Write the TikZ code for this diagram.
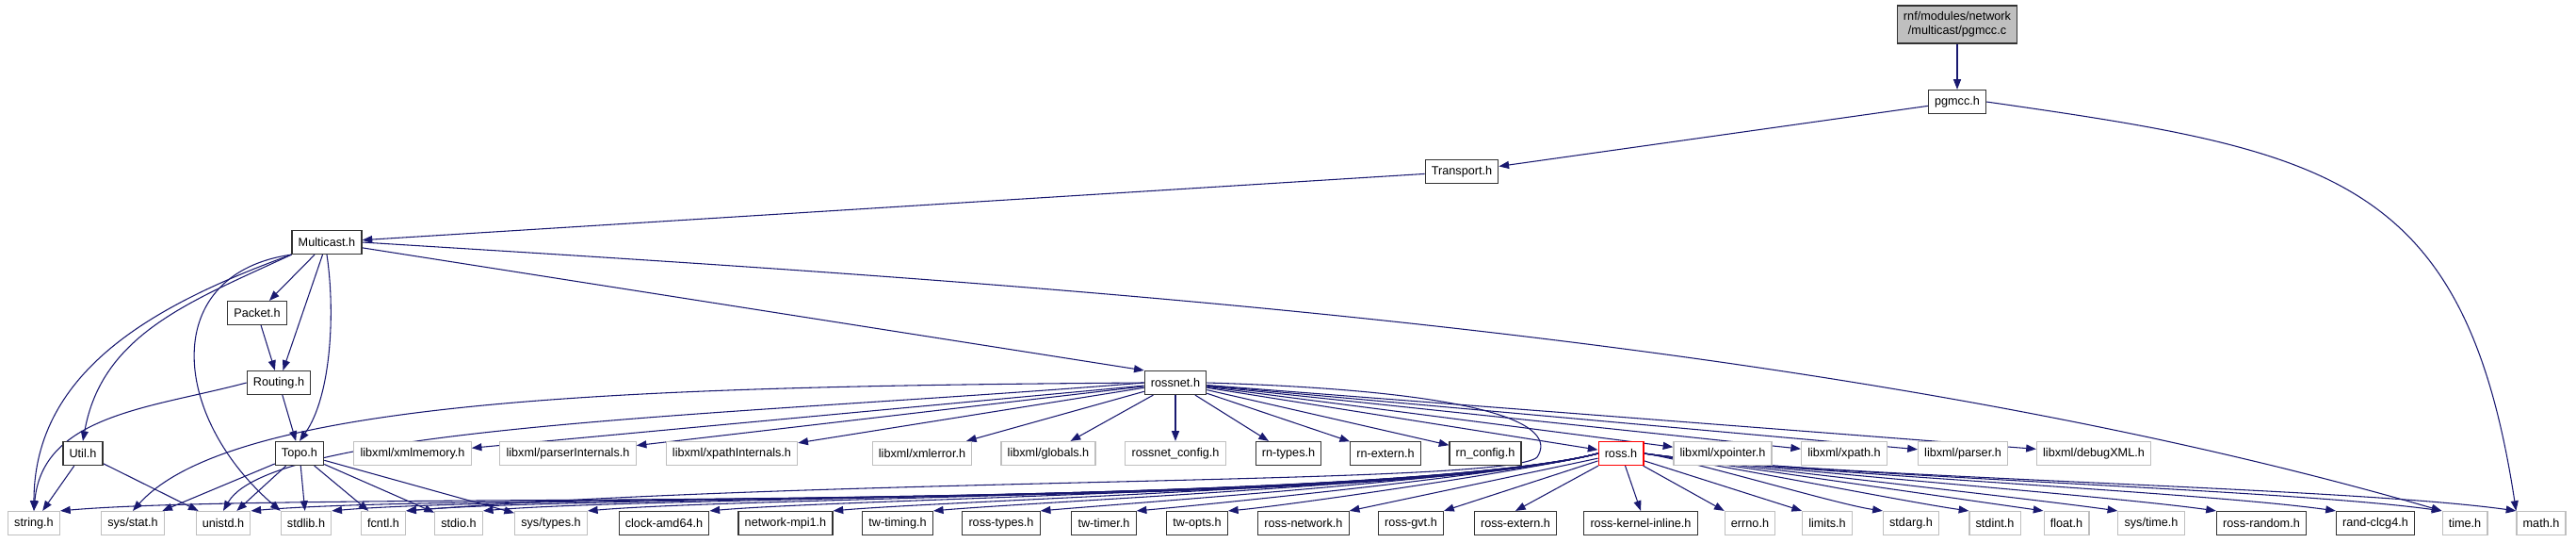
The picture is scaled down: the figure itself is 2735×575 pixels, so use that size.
\documentclass[tikz,border=0pt]{standalone}
\usepackage{fontspec}
\setmainfont{Liberation Sans}
\usepackage{xcolor}
\usetikzlibrary{arrows.meta, positioning, backgrounds}
\definecolor{bleuLien}{RGB}{25,25,112}
\definecolor{grisBord}{RGB}{191,191,191}

\begin{document}
\begin{tikzpicture}[
			x=0.75pt, y=0.75pt,
			font=\fontsize{9.5}{11}\selectfont,
			% Styles des fichiers
			fichier/.style={draw=black!80, fill=white, line width=0.9pt, minimum height=18.75pt, inner xsep=5pt, inner ysep=1pt},
			externe/.style={fichier, draw=grisBord},
			tronque/.style={fichier, draw=red},
			racine/.style={fichier, fill=grisBord, align=center, minimum height=30pt},
			% Style des liens
			fleche/.style={-{Triangle[length=8pt, width=6pt]}, draw=bleuLien, line width=0.8pt},
			]
			
			\useasboundingbox (0,0) rectangle (2735,-575);
			
			% Haut du graphe
			\node[racine] (pgmccC) at (2078,-26) {rnf/modules/network\\/multicast/pgmcc.c};
			\node[fichier] (pgmccH) at (2078,-108) {pgmcc.h};
			\node[fichier] (transport) at (1552,-182) {Transport.h};
			\node[fichier] (multicast) at (347,-257) {Multicast.h};
			\node[fichier] (packet) at (273,-332) {Packet.h};
			\node[fichier] (routing) at (296,-406) {Routing.h};
			\node[fichier] (rossnet) at (1248,-406) {rossnet.h};
			
			% Rangee du milieu
			\node[fichier] (util) at (88,-481) {Util.h};
			\node[fichier] (topo) at (318,-481) {Topo.h};
			\node[externe] (xmlmemory) at (438,-481) {libxml/xmlmemory.h};
			\node[externe] (parserInt) at (603,-481) {libxml/parserInternals.h};
			\node[externe] (xpathInt) at (777,-481) {libxml/xpathInternals.h};
			\node[externe] (xmlerror) at (979,-481) {libxml/xmlerror.h};
			\node[externe] (globals) at (1113,-481) {libxml/globals.h};
			\node[externe] (rossnetConfig) at (1248,-481) {rossnet\_config.h};
			\node[fichier] (rnTypes) at (1368,-481) {rn-types.h};
			\node[fichier] (rnExtern) at (1471,-481) {rn-extern.h};
			\node[fichier] (rnConfig) at (1577,-481) {rn\_config.h};
			\node[tronque] (ross) at (1721,-481) {ross.h};
			\node[externe] (xpointer) at (1829,-481) {libxml/xpointer.h};
			\node[externe] (xpath) at (1958,-481) {libxml/xpath.h};
			\node[externe] (parser) at (2084,-481) {libxml/parser.h};
			\node[externe] (debugXML) at (2223,-481) {libxml/debugXML.h};
			
			% Rangee du bas
			\node[externe] (string) at (36,-555) {string.h};
			\node[externe] (sysStat) at (141,-555) {sys/stat.h};
			\node[externe] (unistd) at (237,-555) {unistd.h};
			\node[externe] (stdlib) at (325,-555) {stdlib.h};
			\node[externe] (fcntl) at (407,-555) {fcntl.h};
			\node[externe] (stdio) at (487,-555) {stdio.h};
			\node[externe] (sysTypes) at (585,-555) {sys/types.h};
			\node[fichier] (clock) at (705,-555) {clock-amd64.h};
			\node[fichier] (mpi) at (834,-555) {network-mpi1.h};
			\node[fichier] (twTiming) at (953,-555) {tw-timing.h};
			\node[fichier] (rossTypes) at (1063,-555) {ross-types.h};
			\node[fichier] (twTimer) at (1172,-555) {tw-timer.h};
			\node[fichier] (twOpts) at (1271,-555) {tw-opts.h};
			\node[fichier] (rossNetwork) at (1384,-555) {ross-network.h};
			\node[fichier] (rossGvt) at (1498,-555) {ross-gvt.h};
			\node[fichier] (rossExtern) at (1609,-555) {ross-extern.h};
			\node[fichier] (kernel) at (1742,-555) {ross-kernel-inline.h};
			\node[externe] (errno) at (1858,-555) {errno.h};
			\node[externe] (limits) at (1940,-555) {limits.h};
			\node[externe] (stdarg) at (2029,-555) {stdarg.h};
			\node[externe] (stdint) at (2118,-555) {stdint.h};
			\node[externe] (float) at (2194,-555) {float.h};
			\node[externe] (sysTime) at (2284,-555) {sys/time.h};
			\node[fichier] (random) at (2401,-555) {ross-random.h};
			\node[fichier] (clcg4) at (2522,-555) {rand-clcg4.h};
			\node[externe] (time) at (2617,-555) {time.h};
			\node[externe] (math) at (2698,-555) {math.h};
			
			\begin{scope}[on background layer]
			% Liens du haut
			\draw[fleche] (pgmccC) -- (pgmccH);
			\draw[fleche] (pgmccH) -- (transport);
			\draw[fleche] (pgmccH.east) .. controls (2472,-160) and (2617,-185) .. (math.north west);
			\draw[fleche] (transport) -- (multicast);
			
			% Liens de Multicast.h
			\draw[fleche] (multicast) -- (packet);
			\draw[fleche] (multicast) -- (routing);
			\draw[fleche] (multicast.south) .. controls (356,-330) and (352,-420) .. (topo.north);
			\draw[fleche] (multicast.south west) to[out=205, in=80] (util.north);
			\draw[fleche] (multicast.south west) to[out=200, in=90] (string.north);
			\draw[fleche] (multicast.south west) .. controls (170,-290) and (180,-440) .. (stdlib.north west);
			\draw[fleche] (multicast) -- (rossnet.north west);
			\draw[fleche] (multicast.east) .. controls (1080,-300) and (1930,-350) .. (time.north west);
			
			\draw[fleche] (packet) -- (routing);
			\draw[fleche] (routing) -- (topo);
			\draw[fleche] (routing.west) to[out=195, in=85] (string.north);
			\draw[fleche] (util) -- (string);
			\draw[fleche] (util) -- (unistd);
			\foreach \cible in {sysStat, unistd, stdlib, fcntl, stdio, sysTypes}
				\draw[fleche] (topo) -- (\cible);
			
			% Liens de rossnet.h
			\foreach \cible in {xmlmemory, parserInt, xpathInt, xmlerror, globals, rossnetConfig,
				rnTypes, rnExtern, rnConfig, ross, xpointer, xpath, parser, debugXML}
				\draw[fleche] (rossnet) -- (\cible);
			\draw[fleche] (rossnet.west) .. controls (700,-410) and (250,-420) .. (sysStat.north);
			\draw[fleche] (rossnet.west) .. controls (800,-440) and (290,-450) .. (unistd.north);
			\draw[fleche] (rossnet.east) .. controls (1580,-415) and (1655,-450) .. (1632,-485)
				.. controls (1600,-515) and (900,-505) .. (fcntl.north east);
			
			% Liens de ross.h (vers la gauche, puis vers la droite)
			\foreach \cible/\d in {string/260, unistd/228, stdlib/214, fcntl/202, stdio/188, sysTypes/170,
				clock/150, mpi/129, twTiming/112, rossTypes/93, twTimer/77, twOpts/62}
				\draw[fleche] (ross.west) .. controls +(195:\d) and +(5:\d) .. (\cible.north east);
			\draw[fleche] (ross) -- (rossNetwork.north east);
			\draw[fleche] (ross) -- (rossGvt.north east);
			\draw[fleche] (ross) -- (rossExtern.north);
			\draw[fleche] (ross) -- (kernel.north);
			\draw[fleche] (ross) -- (errno.north west);
			\draw[fleche] (ross) -- (limits.north west);
			\foreach \cible/\d in {stdarg/49, stdint/67, float/84, sysTime/99, random/120, clcg4/146,
				time/168, math/184}
				\draw[fleche] (ross.east) .. controls +(-8:\d) and +(172:\d) .. (\cible.north west);
			\end{scope}
			
		\end{tikzpicture}
\end{document}
